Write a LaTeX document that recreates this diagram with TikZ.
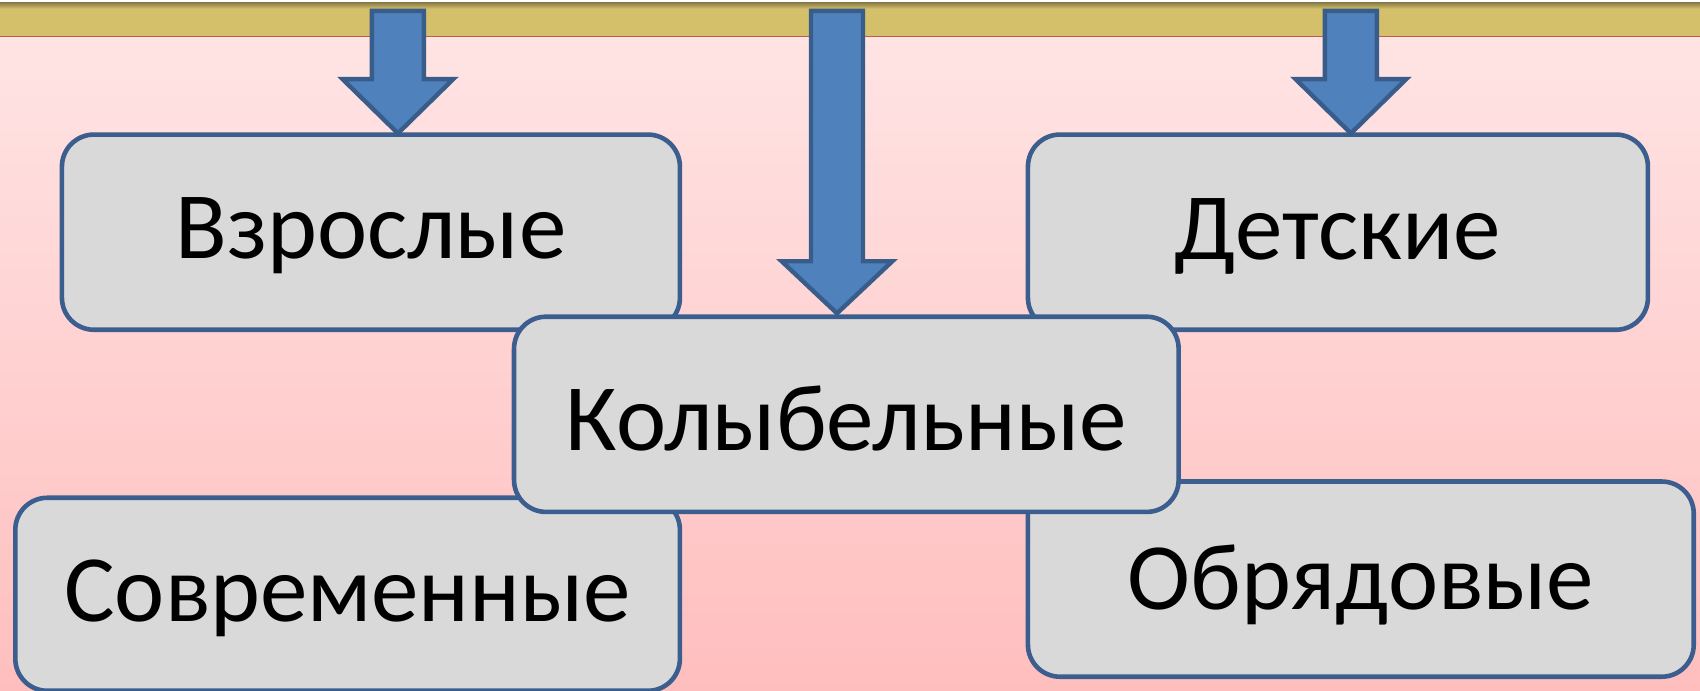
\documentclass[tikz,border=0pt]{standalone}
\usepackage{fontspec}
\setmainfont{Carlito}
\definecolor{bgtop}{HTML}{FFE4E4}
\definecolor{bgbot}{HTML}{FFBEBE}
\definecolor{bargold}{HTML}{D4C06A}
\definecolor{bardark}{HTML}{857845}
\definecolor{barred}{HTML}{C9574F}
\definecolor{boxfill}{HTML}{D9D9D9}
\definecolor{boxline}{HTML}{3B5E8E}
\definecolor{arrfill}{HTML}{4F81BD}
\definecolor{arrline}{HTML}{385D8A}
\tikzset{
  cat/.style={draw=boxline, fill=boxfill, line width=2.3pt, rounded corners=16pt,
    inner sep=0pt, anchor=north west},
  cattext/.style={font=\fontsize{47.5}{56}\selectfont, inner sep=0pt},
  blockarrow/.style={draw=arrline, fill=arrfill, line width=2.2pt, line join=miter}
}
\begin{document}
\begin{tikzpicture}[x=0.5421pt,y=-0.5421pt]
\useasboundingbox (0,0) rectangle (1568,636.5);
% background
\fill[white] (0,0) rectangle (1568,636.5);
\shade[top color=bgtop, bottom color=bgbot] (0,33) rectangle (1568,636.5);
% top bar
\fill[bargold] (0,3) rectangle (1568,33);
\shade[top color=bardark, bottom color=bargold] (0,2) rectangle (1568,8);
\draw[barred, line width=0.7pt] (0,33.5) -- (1568,33.5);
% side boxes
\node[cat, minimum width=309pt, minimum height=97.6pt] (vz) at (55,122) {};
\node[cattext] (vzt) at ([yshift=-2pt]vz.center) {Взрослые};
\node[cat, minimum width=310pt, minimum height=97.6pt] (de) at (946,122) {};
\node[cattext] (det) at ([yshift=-2pt]de.center) {Детские};
\node[cat, minimum width=332.3pt, minimum height=96.5pt] (so) at (12,457) {};
\node[cattext] (sot) at ([yshift=-2pt]so.center) {Современные};
\node[cat, minimum width=332.9pt, minimum height=97.6pt] (ob) at (946,442) {};
\node[cattext] (obt) at ([yshift=-3pt]ob.center) {Обрядовые};
% side arrows
\draw[blockarrow] (343,10) -- (391,10) -- (391,73) -- (418,73) -- (367,123)
  -- (316,73) -- (343,73) -- cycle;
\draw[blockarrow] (1222,10) -- (1270,10) -- (1270,73) -- (1297,73) -- (1246,123)
  -- (1195,73) -- (1222,73) -- cycle;
% centre box
\node[cat, minimum width=332.3pt, minimum height=97.6pt] (ko) at (472,290) {};
\node[cattext] (kot) at ([yshift=-2pt]ko.center) {Колыбельные};
% centre arrow
\draw[blockarrow] (748,10) -- (796,10) -- (796,241) -- (823,241) -- (772,289)
  -- (721,241) -- (748,241) -- cycle;
\end{tikzpicture}
\end{document}
